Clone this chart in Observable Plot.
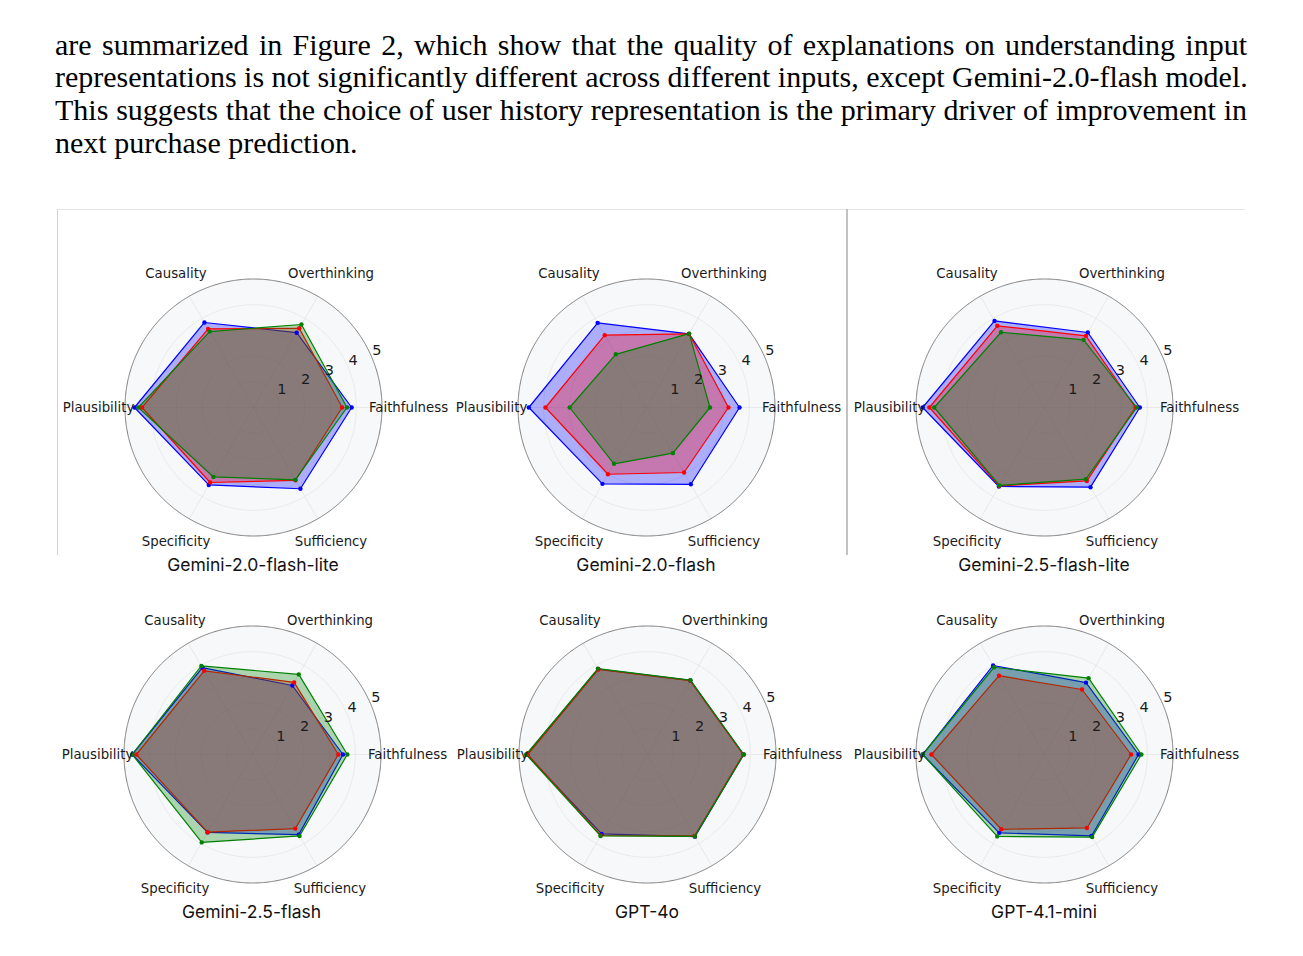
<!DOCTYPE html>
<html>
<head>
<meta charset="utf-8">
<script src="https://cdn.jsdelivr.net/npm/d3@7"></script>
<script src="https://cdn.jsdelivr.net/npm/@observablehq/plot@0.6"></script>
<style>
  body { margin: 0; background: #fff; }
  #page { position: relative; width: 1303px; height: 956px; overflow: hidden; background: #fff; }
  .para { position: absolute; left: 55px; top: 28.5px; width: 1192px;
          font-family: "Liberation Serif", "Times New Roman", serif; font-size: 30px;
          line-height: 32.7px; color: #000; }
  .para div { white-space: nowrap; text-align: justify; text-align-last: justify; }
  .para div.last { text-align-last: left; }
  .chart { position: absolute; }
  .title { position: absolute; font-family: Inter, "Noto Sans", sans-serif; font-size: 17.5px;
           color: #111; transform: translate(-50%, -50%); white-space: nowrap; }
  .rule { position: absolute; }
</style>
</head>
<body>
<div id="page"></div>
<script>
// ---------- text ----------
const paragraphLines = [
  "are summarized in Figure 2, which show that the quality of explanations on understanding input",
  "representations is not significantly different across different inputs, except Gemini-2.0-flash model.",
  "This suggests that the choice of user history representation is the primary driver of improvement in",
  "next purchase prediction."
];

// ---------- chart data ----------
const categories = ["Faithfulness", "Overthinking", "Causality", "Plausibility", "Specificity", "Sufficiency"];
const categoryAngles = [0, 60, 120, 180, 240, 300]; // degrees, counter-clockwise from the right
const inputs = ["Input A", "Input B", "Input C"];
const seriesColors = ["#0000ff", "#ff0000", "#008000"];
const radialTicks = [1, 2, 3, 4, 5];
const models = ["Gemini-2.0-flash-lite", "Gemini-2.0-flash", "Gemini-2.5-flash-lite",
                "Gemini-2.5-flash", "GPT-4o", "GPT-4.1-mini"];

// values in category order, one row per input (blue, red, green)
const gemini20FlashLite = [
  [3.82, 3.36, 3.82, 4.63, 3.48, 3.65],
  [3.45, 3.56, 3.53, 4.34, 3.37, 3.27],
  [3.64, 3.73, 3.41, 4.48, 3.12, 3.25]
];
const gemini20Flash = [
  [3.62, 3.31, 3.80, 4.58, 3.43, 3.45],
  [3.19, 3.31, 3.25, 3.93, 3.00, 2.92],
  [2.47, 3.32, 2.39, 2.99, 2.53, 2.05]
];
const gemini25FlashLite = [
  [3.71, 3.37, 3.89, 4.74, 3.55, 3.58],
  [3.54, 3.22, 3.67, 4.48, 3.52, 3.30],
  [3.59, 3.04, 3.38, 4.29, 3.50, 3.22]
];
const gemini25Flash = [
  [3.52, 3.10, 3.90, 4.68, 3.50, 3.60],
  [3.34, 3.24, 3.76, 4.52, 3.49, 3.33],
  [3.69, 3.60, 3.98, 4.68, 3.95, 3.66]
];
const gpt4o = [
  [3.74, 3.33, 3.84, 4.70, 3.57, 3.69],
  [3.72, 3.32, 3.82, 4.66, 3.64, 3.66],
  [3.75, 3.34, 3.86, 4.72, 3.66, 3.68]
];
const gpt41Mini = [
  [3.66, 3.23, 4.00, 4.74, 3.52, 3.66],
  [3.37, 2.92, 3.54, 4.40, 3.36, 3.30],
  [3.77, 3.43, 3.92, 4.74, 3.68, 3.71]
];
const modelValues = [gemini20FlashLite, gemini20Flash, gemini25FlashLite, gemini25Flash, gpt4o, gpt41Mini];

// ---------- layout ----------
const chartCenters = [[253, 407], [646, 407], [1044, 407], [251.5, 754], [647, 754], [1044, 754]];
const R = 128.5;       // pixel radius of the value-5 ring
const W = 400, H = 340;

const page = document.getElementById("page");

// paragraph
const para = document.createElement("div");
para.className = "para";
paragraphLines.forEach((t, i) => {
  const d = document.createElement("div");
  d.textContent = t;
  if (i === paragraphLines.length - 1) d.className = "last";
  para.appendChild(d);
});
page.appendChild(para);

// frame rules from the screenshot
function rule(x, y, w, h, color) {
  const r = document.createElement("div");
  r.className = "rule";
  Object.assign(r.style, {left: x + "px", top: y + "px", width: w + "px", height: h + "px", background: color});
  page.appendChild(r);
}
rule(57, 208.5, 1188, 1.5, "#e4e4e4");
rule(57, 209, 1, 346, "#d2d2d2");
rule(846, 209, 1.6, 346, "#c2c2c2");

// longitude on the azimuthal projection (pole at centre): lon 90 = right, 180 = up
const lonOf = c => categoryAngles[categories.indexOf(c)] + 90;
const circle = r => d3.geoCircle().center([0, 90]).radius(r).precision(0.5)();

function radar(values) {
  const rows = [];
  inputs.forEach((inp, s) => {
    categories.forEach((c, k) => {
      rows.push({input: inp, category: c, lon: lonOf(c), lat: 90 - values[s][k]});
    });
  });
  const mx = (W - 2 * R) / 2, my = (H - 2 * R) / 2;
  return Plot.plot({
    width: W, height: H,
    marginLeft: mx, marginRight: mx, marginTop: my, marginBottom: my,
    projection: {
      type: "azimuthal-equidistant",
      rotate: [0, -90],
      domain: circle(5),
      clip: false
    },
    color: {domain: inputs, range: seriesColors},
    style: {background: "transparent", overflow: "visible", fontFamily: "'DejaVu Sans', sans-serif", fontSize: "13.3px", color: "#1a1a1a"},
    marks: [
      Plot.geo([5], {geometry: circle, fill: "#f7f8fa", stroke: "none"}),
      Plot.geo([1, 2, 3, 4], {geometry: circle, fill: "none", stroke: "#e2e4e7", strokeWidth: 0.8}),
      Plot.link(categories, {x1: lonOf, y1: 85, x2: lonOf, y2: 90, stroke: "#e2e4e7", strokeWidth: 0.8}),
      Plot.geo([5], {geometry: circle, fill: "none", stroke: "#707070", strokeWidth: 0.9}),
      Plot.line(rows, {x: "lon", y: "lat", z: "input", stroke: "input", fill: "input",
                       fillOpacity: 0.3, strokeWidth: 1.2, curve: "linear-closed"}),
      Plot.dot(rows, {x: "lon", y: "lat", fill: "input", r: 2.2}),
      Plot.text(radialTicks, {x: 112.5, y: d => 90 - d, text: d => String(d), textAnchor: "start", dy: -8, fontSize: 14.5}),
      Plot.text(categories, {x: lonOf, y: 90 - 6.03, text: d => d, fontSize: 13.3})
    ]
  });
}

models.forEach((m, i) => {
  const [cx, cy] = chartCenters[i];
  const wrap = document.createElement("div");
  wrap.className = "chart";
  wrap.style.left = (cx - W / 2) + "px";
  wrap.style.top = (cy - H / 2) + "px";
  wrap.appendChild(radar(modelValues[i]));
  page.appendChild(wrap);

  const t = document.createElement("div");
  t.className = "title";
  t.textContent = m;
  t.style.left = cx + "px";
  t.style.top = (cy + 157) + "px";
  page.appendChild(t);
});
</script>
</body>
</html>
